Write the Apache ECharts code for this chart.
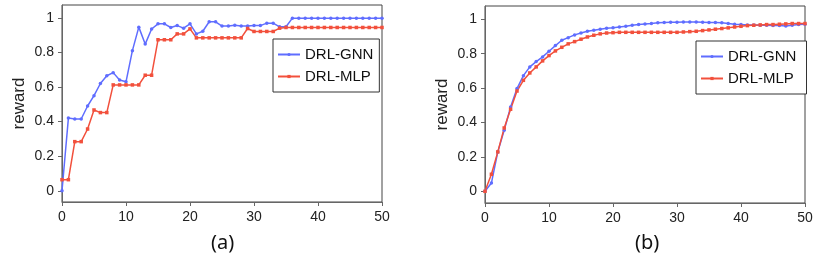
<!DOCTYPE html>
<html>
<head>
<meta charset="utf-8">
<script src="https://cdn.jsdelivr.net/npm/echarts@6/dist/echarts.min.js"></script>
<style>html,body{margin:0;padding:0;background:#fff;}#c{width:822px;height:263px;}</style>
</head>
<body>
<div id="c"></div>
<script>
const xs = Array.from({length: 51}, (_, i) => i);
const xTicks = [0, 10, 20, 30, 40, 50];
const yTicks = [0, 0.2, 0.4, 0.6, 0.8, 1];
const seriesNames = ['DRL-GNN', 'DRL-MLP'];
const panelTitles = ['(a)', '(b)'];

const gnnA = [0,0.42,0.415,0.415,0.49,0.55,0.62,0.665,0.683,0.64,0.63,0.81,0.946,0.848,0.935,0.965,0.965,0.944,0.955,0.94,0.965,0.907,0.922,0.977,0.977,0.952,0.952,0.957,0.953,0.953,0.955,0.955,0.969,0.969,0.948,0.948,0.998,0.998,0.998,0.998,0.998,0.998,0.998,0.998,0.998,0.998,0.998,0.998,0.998,0.998,0.998];
const mlpA = [0.064,0.064,0.284,0.284,0.357,0.467,0.452,0.452,0.612,0.612,0.612,0.612,0.612,0.668,0.668,0.873,0.873,0.873,0.907,0.907,0.936,0.884,0.884,0.884,0.884,0.884,0.884,0.884,0.884,0.938,0.921,0.921,0.921,0.921,0.94,0.944,0.944,0.944,0.944,0.944,0.944,0.944,0.944,0.944,0.944,0.944,0.944,0.944,0.944,0.944,0.944];
const gnnB = [0,0.048,0.229,0.355,0.49,0.597,0.672,0.723,0.754,0.781,0.814,0.847,0.878,0.893,0.909,0.92,0.93,0.936,0.942,0.948,0.951,0.955,0.959,0.965,0.969,0.973,0.975,0.979,0.981,0.983,0.983,0.984,0.984,0.984,0.983,0.981,0.981,0.979,0.975,0.971,0.969,0.967,0.967,0.965,0.965,0.963,0.963,0.961,0.965,0.969,0.971];
const mlpB = [0,0.099,0.229,0.368,0.477,0.583,0.645,0.688,0.723,0.758,0.789,0.816,0.837,0.857,0.87,0.884,0.897,0.907,0.915,0.92,0.922,0.924,0.924,0.924,0.924,0.924,0.924,0.924,0.924,0.924,0.924,0.926,0.928,0.93,0.934,0.938,0.942,0.946,0.95,0.955,0.959,0.963,0.965,0.967,0.969,0.969,0.971,0.973,0.975,0.975,0.975];

const BLUE = '#5f6dff';
const RED = '#f2503c';
const FONT = 'Liberation Sans';

const grids = [
  {left: 62, right: 440, top: 5, bottom: 61},
  {left: 485, right: 17, top: 6, bottom: 60}
];
const yRanges = [[-0.065, 1.074], [-0.068, 1.077]];
const legendPos = [{left: 273, top: 39}, {left: 696, top: 41}];

function mkX(i) {
  return {
    type: 'value', gridIndex: i, min: 0, max: 50, interval: 10,
    axisLine: {show: true, onZero: false, lineStyle: {color: '#666', width: 1}},
    axisTick: {show: true, inside: false, length: 4, lineStyle: {color: '#666'}},
    axisLabel: {color: '#222', fontSize: 14, fontFamily: FONT, margin: 8},
    splitLine: {show: false}
  };
}
function mkY(i) {
  return {
    type: 'value', gridIndex: i, min: yRanges[i][0], max: yRanges[i][1],
    name: 'reward', nameLocation: 'middle', nameGap: 34,
    nameTextStyle: {color: '#222', fontSize: 17, fontFamily: FONT},
    axisLine: {show: true, onZero: false, lineStyle: {color: '#666', width: 1}},
    axisTick: {show: true, inside: false, length: 4, customValues: yTicks, lineStyle: {color: '#666'}},
    axisLabel: {color: '#222', fontSize: 14, fontFamily: FONT, margin: 8, customValues: yTicks,
      formatter: v => String(Math.round(v * 10) / 10)},
    splitLine: {show: false}
  };
}
function mkSeries(name, data, i, color, symbol, size) {
  return {
    name, type: 'line', xAxisIndex: i, yAxisIndex: i,
    data: xs.map((x, k) => [x, data[k]]),
    symbol, symbolSize: size, showSymbol: true,
    lineStyle: {color, width: 1.5},
    itemStyle: {color},
    animation: false
  };
}

const chart = echarts.init(document.getElementById('c'), null, {renderer: 'canvas'});
chart.setOption({
  animation: false,
  backgroundColor: '#fff',
  grid: grids.map(g => Object.assign({show: true, borderColor: '#444', borderWidth: 1, backgroundColor: 'transparent'}, g)),
  xAxis: [mkX(0), mkX(1)],
  yAxis: [mkY(0), mkY(1)],
  legend: legendPos.map((p, i) => ({
    orient: 'vertical', left: p.left, top: p.top,
    data: seriesNames.map(n => ({name: n + (i ? ' ' : '')})),
    backgroundColor: '#fff', borderColor: '#333', borderWidth: 1, borderRadius: 0,
    padding: [7, 6, 7, 4], itemGap: 5, itemWidth: 22, itemHeight: 4,
    textStyle: {color: '#111', fontSize: 15, fontFamily: FONT, lineHeight: 17},
    selectedMode: false
  })),
  series: [
    mkSeries(seriesNames[0], gnnA, 0, BLUE, 'circle', 3.5),
    mkSeries(seriesNames[1], mlpA, 0, RED, 'rect', 3.5),
    mkSeries(seriesNames[0] + ' ', gnnB, 1, BLUE, 'circle', 3.5),
    mkSeries(seriesNames[1] + ' ', mlpB, 1, RED, 'rect', 3.5)
  ],
  graphic: [
    {type: 'text', left: 211, top: 233, style: {text: panelTitles[0], fontSize: 20, fontFamily: 'Noto Sans', fill: '#111'}},
    {type: 'text', left: 635, top: 233, style: {text: panelTitles[1], fontSize: 20, fontFamily: 'Noto Sans', fill: '#111'}}
  ]
});
</script>
</body>
</html>
